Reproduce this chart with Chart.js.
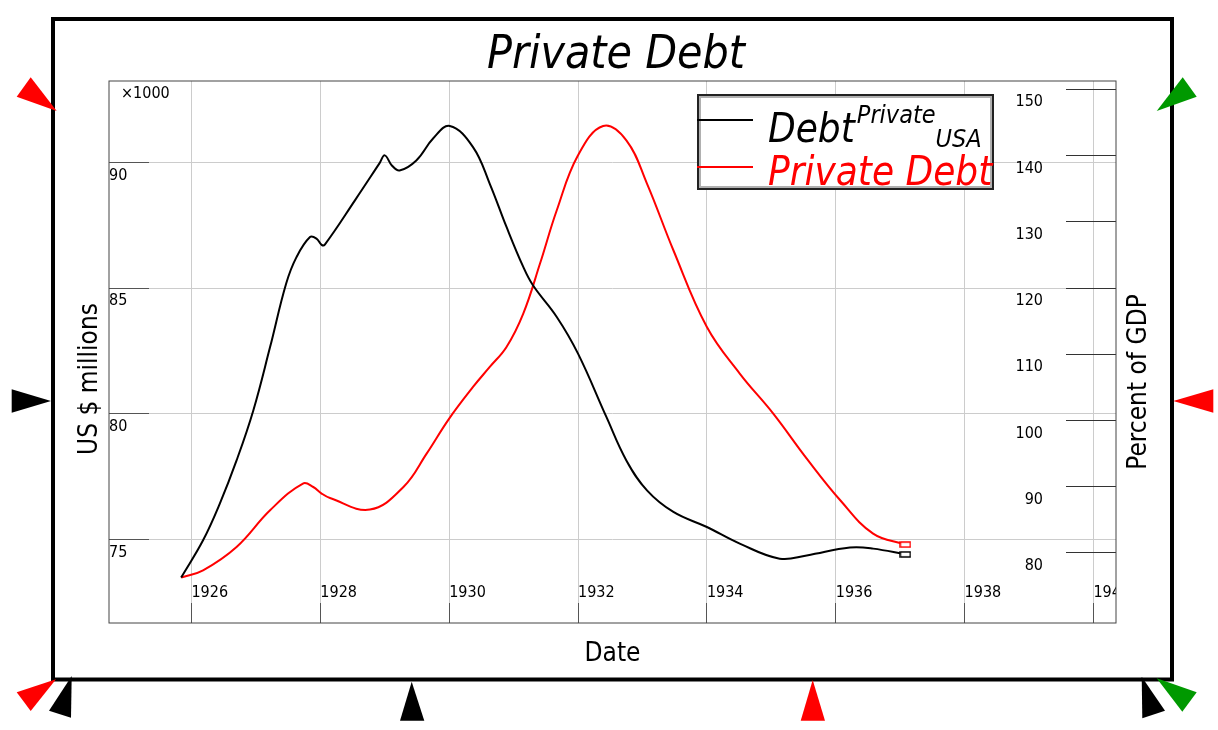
<!DOCTYPE html>
<html>
<head>
<meta charset="utf-8">
<title>Private Debt</title>
<script src="https://cdn.jsdelivr.net/npm/chart.js@4.4.1/dist/chart.umd.min.js"></script>
<style>
html, body { margin: 0; padding: 0; background: #fff; overflow: hidden; }
canvas { display: block; }
</style>
</head>
<body>
<canvas id="myChart" width="1218" height="730"></canvas>
<script>
// black curve: private debt in US $ millions (x1000), left axis
var debtYears = [1925.84, 1926.18, 1926.44, 1926.70, 1926.96, 1927.22, 1927.47, 1927.63, 1927.84, 1927.94,
  1928.02, 1928.07, 1928.54, 1928.92, 1929.00, 1929.11, 1929.23, 1929.49, 1929.75, 1930.01,
  1930.37, 1930.63, 1930.89, 1931.15, 1931.30, 1931.67, 1932.00, 1932.44, 1932.75, 1933.07,
  1933.48, 1934.00, 1934.51, 1935.13, 1935.55, 1936.22, 1936.58, 1937.08]
var debtValues = [73.49, 74.97, 76.43, 78.15, 80.14, 82.66, 85.19, 86.24, 87.04, 86.98,
  86.73, 86.74, 88.51, 89.98, 90.29, 89.89, 89.69, 90.09, 90.96, 91.46,
  90.62, 89.16, 87.44, 85.85, 85.12, 83.86, 82.40, 79.88, 78.15, 76.96,
  76.10, 75.50, 74.84, 74.24, 74.37, 74.68, 74.64, 74.41]

// red curve: private debt as percent of GDP, right axis
var pctYears = [1925.84, 1926.18, 1926.70, 1927.22, 1927.73, 1927.89, 1928.02, 1928.15, 1928.77, 1929.29,
  1929.65, 1930.00, 1930.37, 1930.63, 1930.89, 1931.15, 1931.41, 1931.67, 1932.00, 1932.39,
  1932.75, 1933.07, 1933.48, 1934.00, 1934.51, 1935.03, 1935.55, 1936.07, 1936.58, 1937.08]
var pctValues = [76.29, 77.39, 80.91, 86.45, 90.48, 89.96, 88.97, 88.30, 86.55, 89.96,
  95.00, 100.29, 105.06, 108.08, 111.10, 116.14, 123.69, 131.74, 140.04, 144.46,
  142.30, 135.77, 125.70, 114.12, 107.08, 101.04, 94.25, 87.96, 82.93, 81.27]

var yearTicks = [1926, 1928, 1930, 1932, 1934, 1936, 1938, 1940]
var debtTicks = [75, 80, 85, 90]
var pctTicks = [80, 90, 100, 110, 120, 130, 140, 150]

var FONT = "'DejaVu Sans Condensed', 'DejaVu Sans', sans-serif"

function toPoints(xs, ys) {
  var out = []
  for (var i in xs) out.push({x: xs[i], y: ys[i]})
  return out
}

// little open box drawn on the last point of each curve
function makeMarker(color) {
  var c = document.createElement('canvas')
  c.width = 12
  c.height = 7
  var g = c.getContext('2d')
  g.fillStyle = '#fff'
  g.fillRect(1, 1, 10, 5)
  g.strokeStyle = color
  g.lineWidth = 1.5
  g.strokeRect(1, 1, 10, 5)
  return c
}

// year labels get cut at the plot edge like in the original
class ClippedLinearScale extends Chart.LinearScale {
  drawLabels(area) {
    var ctx = this.ctx
    ctx.save()
    ctx.beginPath()
    ctx.rect(area.left, 0, area.right - area.left, this.chart.height)
    ctx.clip()
    super.drawLabels(area)
    ctx.restore()
  }
}
ClippedLinearScale.id = 'clippedLinear'
Chart.register(ClippedLinearScale)

var framePlugin = {
  id: 'frame',
  beforeDraw: function(chart) {
    var ctx = chart.ctx
    var tris = [
      ['#ff0000', [[16.7, 96.7], [30.7, 77.3], [56.7, 111]]],
      ['#009900', [[1156.7, 111], [1182.7, 77.3], [1196.7, 96.7]]],
      ['#000000', [[11.7, 389.3], [11.7, 412.7], [51, 401]]],
      ['#ff0000', [[1173.3, 401], [1213.3, 389.3], [1213.3, 412.7]]],
      ['#ff0000', [[16.7, 692.3], [30.7, 711], [56, 679.3]]],
      ['#000000', [[71.7, 676], [71, 717.7], [49, 710.7]]],
      ['#000000', [[411.7, 681.7], [400, 720.7], [424.3, 720.7]]],
      ['#ff0000', [[812.7, 680], [800.7, 720.7], [825, 720.7]]],
      ['#000000', [[1141.7, 676.7], [1165, 710.7], [1142.3, 718.3]]],
      ['#009900', [[1156.7, 678.3], [1196.7, 692.3], [1182.3, 711.7]]]
    ]
    ctx.save()
    ctx.fillStyle = '#fff'
    ctx.fillRect(0, 0, chart.width, chart.height)
    ctx.strokeStyle = '#000'
    ctx.lineWidth = 4
    ctx.strokeRect(53, 19, 1119, 660.5)
    tris.forEach(function(t) {
      ctx.fillStyle = t[0]
      ctx.beginPath()
      ctx.moveTo(t[1][0][0], t[1][0][1])
      ctx.lineTo(t[1][1][0], t[1][1][1])
      ctx.lineTo(t[1][2][0], t[1][2][1])
      ctx.closePath()
      ctx.fill()
    })
    ctx.restore()
  },
  afterDatasetsDraw: function(chart) {
    var ctx = chart.ctx
    var a = chart.chartArea
    ctx.save()
    ctx.strokeStyle = '#444'
    ctx.lineWidth = 1
    ctx.strokeRect(a.left, a.top, a.right - a.left, a.bottom - a.top)
    ctx.restore()
  },
  afterDraw: function(chart) {
    var ctx = chart.ctx
    var a = chart.chartArea
    ctx.save()
    ctx.fillStyle = '#000'
    ctx.textBaseline = 'middle'
    ctx.textAlign = 'left'
    ctx.font = '16px ' + FONT
    ctx.fillText('\u00d71000', a.left + 12, a.top + 13)

    // vertical axis titles, both read bottom to top
    ctx.font = '26px ' + FONT
    ctx.textAlign = 'center'
    var sides = [[chart.scales.y, 90, 379], [chart.scales.y1, 1139, 382]]
    sides.forEach(function(s) {
      ctx.save()
      ctx.translate(s[1], s[2])
      ctx.rotate(-Math.PI / 2)
      ctx.fillText(s[0].options.title.text, 0, 0)
      ctx.restore()
    })

    // legend box
    var bx = 697, by = 94, bw = 297, bh = 96
    ctx.fillStyle = '#fff'
    ctx.fillRect(bx, by, bw, bh)
    ctx.strokeStyle = '#b0b0b0'
    ctx.lineWidth = 2
    ctx.strokeRect(bx + 3, by + 3, bw - 6, bh - 6)
    ctx.strokeStyle = '#222'
    ctx.strokeRect(bx + 1, by + 1, bw - 2, bh - 2)

    ctx.lineWidth = 2
    ctx.strokeStyle = '#000'
    ctx.beginPath()
    ctx.moveTo(bx, 120)
    ctx.lineTo(bx + 56, 120)
    ctx.stroke()
    ctx.strokeStyle = '#ff0000'
    ctx.beginPath()
    ctx.moveTo(bx, 167)
    ctx.lineTo(bx + 56, 167)
    ctx.stroke()

    ctx.textAlign = 'left'
    ctx.textBaseline = 'alphabetic'
    var tx = 768
    ctx.fillStyle = '#000'
    ctx.font = 'italic 40px ' + FONT
    ctx.fillText('Debt', tx, 142)
    var w1 = ctx.measureText('Debt').width + 2
    ctx.font = 'italic 25px ' + FONT
    ctx.fillText('Private', tx + w1, 123)
    var w2 = ctx.measureText('Private').width
    ctx.fillText('USA', tx + w1 + w2, 147)
    ctx.fillStyle = '#ff0000'
    ctx.font = 'italic 40px ' + FONT
    ctx.fillText('Private Debt', tx, 185)
    ctx.restore()
  }
}

document.addEventListener("DOMContentLoaded", function(event) {

Chart.defaults.font.family = FONT
Chart.defaults.color = '#000'

var ctx = document.getElementById("myChart")
var myChart = new Chart(ctx, {
  type: 'line',
  data: {
    datasets: [
      {
        label: 'Debt Private USA',
        data: toPoints(debtYears, debtValues),
        yAxisID: 'y',
        borderColor: '#000',
        borderWidth: 2,
        fill: false,
        tension: 0.4,
        pointStyle: makeMarker('#000'),
        pointRadius: function(c) { return c.dataIndex === debtYears.length - 1 ? 4 : 0 }
      },
      {
        label: 'Private Debt',
        data: toPoints(pctYears, pctValues),
        yAxisID: 'y1',
        borderColor: '#ff0000',
        borderWidth: 2,
        fill: false,
        tension: 0.4,
        pointStyle: makeMarker('#ff0000'),
        pointRadius: function(c) { return c.dataIndex === pctYears.length - 1 ? 4 : 0 }
      }
    ]
  },
  options: {
    responsive: false,
    animation: false,
    events: [],
    layout: { padding: { left: 14, right: 0, top: 0, bottom: 0 } },
    plugins: {
      legend: { display: false },
      tooltip: { enabled: false },
      title: {
        display: true,
        text: 'Private Debt',
        color: '#000',
        font: { size: 46, style: 'italic', weight: 'normal', lineHeight: 1 },
        padding: { top: 33, bottom: 2 }
      }
    },
    scales: {
      x: {
        type: 'clippedLinear',
        position: 'bottom',
        min: 1924.72,
        max: 1940.35,
        afterBuildTicks: function(s) { s.ticks = yearTicks.map(function(v) { return {value: v} }) },
        afterFit: function(s) { s.height = 107 },
        border: { display: false },
        grid: { color: '#cccccc', tickColor: '#555', tickLength: -20, lineWidth: 1 },
        ticks: {
          mirror: true,
          align: 'start',
          padding: 21,
          maxRotation: 0,
          autoSkip: false,
          font: { size: 16 },
          callback: function(v) { return String(v) }
        },
        title: {
          display: true,
          text: 'Date',
          font: { size: 26 },
          padding: { top: 0, bottom: 60 }
        }
      },
      y: {
        position: 'left',
        min: 71.68,
        max: 93.25,
        afterBuildTicks: function(s) { s.ticks = debtTicks.map(function(v) { return {value: v} }) },
        afterFit: function(s) { s.width = 95 },
        border: { display: false },
        grid: { color: '#cccccc', tickColor: '#555', tickLength: -40, lineWidth: 1 },
        ticks: {
          mirror: true,
          padding: 0,
          labelOffset: 13,
          font: { size: 16 },
          callback: function(v) { return String(v) }
        },
        title: { display: false, text: 'US $ millions' }
      },
      y1: {
        position: 'right',
        min: 69.43,
        max: 151.25,
        afterBuildTicks: function(s) { s.ticks = pctTicks.map(function(v) { return {value: v} }) },
        afterFit: function(s) { s.width = 102 },
        border: { display: false },
        grid: { drawOnChartArea: false, tickColor: '#333', tickLength: -50, lineWidth: 1 },
        ticks: {
          mirror: true,
          padding: -73,
          labelOffset: 13,
          font: { size: 16 },
          callback: function(v) { return String(v) }
        },
        title: { display: false, text: 'Percent of GDP' }
      }
    }
  },
  plugins: [framePlugin]
})

})
</script>
</body>
</html>
